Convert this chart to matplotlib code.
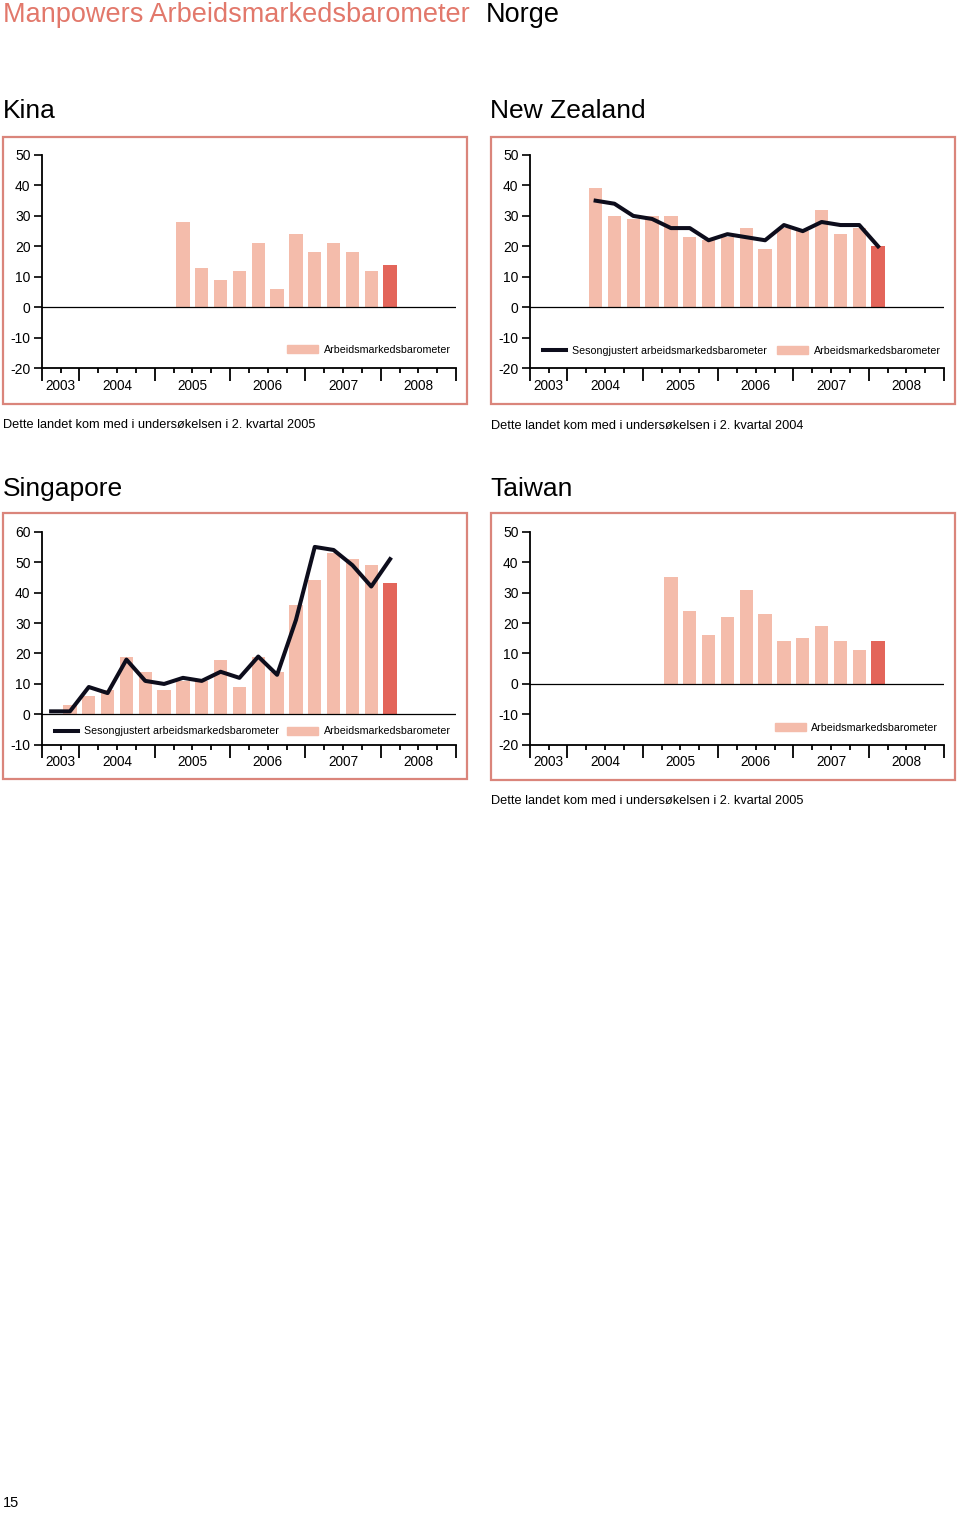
import matplotlib.pyplot as plt
from matplotlib.patches import Rectangle, Patch
from matplotlib.lines import Line2D

plt.rcParams['font.family'] = ['Liberation Sans', 'DejaVu Sans']
plt.rcParams['axes.unicode_minus'] = False

# Kvartaler på x-aksen: 3. kvartal 2003 til 4. kvartal 2008
kvartaler = ['2003K3', '2003K4',
             '2004K1', '2004K2', '2004K3', '2004K4',
             '2005K1', '2005K2', '2005K3', '2005K4',
             '2006K1', '2006K2', '2006K3', '2006K4',
             '2007K1', '2007K2', '2007K3', '2007K4',
             '2008K1', '2008K2', '2008K3', '2008K4']
aar = ['2003', '2004', '2005', '2006', '2007', '2008']

# Kina (fra 2. kvartal 2005)
kina_start = '2005K2'
kina_barometer = [28, 13, 9, 12, 21, 6, 24, 18, 21, 18, 12, 14]

# New Zealand (fra 2. kvartal 2004)
nz_start = '2004K2'
nz_barometer = [39, 30, 29, 30, 30, 23, 22, 23, 26, 19, 26, 25, 32, 24, 26, 20]
nz_sesong = [35, 34, 30, 29, 26, 26, 22, 24, 23, 22, 27, 25, 28, 27, 27, 20]

# Singapore
sg_start = '2003K4'
sg_barometer = [3, 6, 8, 19, 14, 8, 11, 11, 18, 9, 19, 14, 36, 44, 53, 51, 49, 43]
sg_sesong_start = '2003K3'
sg_sesong = [1, 1, 9, 7, 18, 11, 10, 12, 11, 14, 12, 19, 13, 31, 55, 54, 49, 42, 51]

# Taiwan (fra 2. kvartal 2005)
tw_start = '2005K2'
tw_barometer = [35, 24, 16, 22, 31, 23, 14, 15, 19, 14, 11, 14]

# Farger
lys = '#f4bcab'
mork = '#e3655a'
ramme = '#da857b'
overskrift = '#e2786b'
linjefarge = '#0d0d1c'

W, H = 960, 1513
fig = plt.figure(figsize=(W / 100, H / 100), dpi=100)


def fx(x):
    return x / W


def fy(y):
    return 1 - y / H


def diagram(venstre, topp, ymin, ymax, start, verdier, linje_start=None, linje=None,
            leg_linje=None, leg_bar=None):
    hoyde = (ymax - ymin) * 3.045
    ax = fig.add_axes([fx(venstre), fy(topp + hoyde), 414.3 / W, hoyde / H])

    i0 = kvartaler.index(start)
    x = [i0 + i + 0.5 for i in range(len(verdier))]
    farger = [lys] * (len(verdier) - 1) + [mork]
    ax.bar(x, verdier, width=0.71, color=farger, zorder=2)

    ax.axhline(0, color='black', lw=0.9, zorder=3)

    if linje is not None:
        j0 = kvartaler.index(linje_start)
        xl = [j0 + i + 0.5 for i in range(len(linje))]
        ax.plot(xl, linje, color=linjefarge, lw=2.9, zorder=4)

    ax.set_xlim(0, len(kvartaler))
    ax.set_ylim(ymin, ymax)
    ax.set_yticks(range(ymin, ymax + 1, 10))

    # årsgrenser som store merker, kvartaler som små
    store = [kvartaler.index(a + 'K1') if a + 'K1' in kvartaler else 0 for a in aar] + [len(kvartaler)]
    ax.set_xticks(store)
    ax.set_xticks([i for i in range(len(kvartaler) + 1) if i not in store], minor=True)
    ax.set_xticklabels([])

    ax.spines['top'].set_visible(False)
    ax.spines['right'].set_visible(False)
    ax.spines['left'].set_linewidth(1.3)
    ax.spines['bottom'].set_linewidth(1.3)
    ax.tick_params(axis='y', direction='out', length=6, width=1.2, pad=2, labelsize=10)
    ax.tick_params(axis='x', which='major', direction='out', length=9.5, width=1.3)
    ax.tick_params(axis='x', which='minor', direction='out', length=3.6, width=1.3)

    # årstall midt mellom årsgrensene
    for a in aar:
        idx = [i for i, k in enumerate(kvartaler) if k.startswith(a)]
        xm = (idx[0] + idx[-1] + 1) / 2
        ax.annotate(a, xy=(xm, ymin), xytext=(0, -12.5), textcoords='offset points',
                    ha='center', va='center', fontsize=9.8)

    if leg_linje is not None:
        l1 = ax.legend(handles=[Line2D([0], [0], color=linjefarge, lw=2.9)],
                       labels=['Sesongjustert arbeidsmarkedsbarometer'],
                       loc='center left', bbox_to_anchor=leg_linje, frameon=False,
                       fontsize=7.7, handlelength=2.15, handletextpad=0.55,
                       borderpad=0, borderaxespad=0)
        ax.add_artist(l1)
    ax.legend(handles=[Patch(color=lys)], labels=['Arbeidsmarkedsbarometer'],
              loc='center left', bbox_to_anchor=leg_bar, frameon=False,
              fontsize=7.7, handlelength=2.9, handleheight=0.75, handletextpad=0.55,
              borderpad=0, borderaxespad=0)
    return ax


diagram(41.7, 155, -20, 50, kina_start, kina_barometer, leg_bar=(0.592, 0.086))
diagram(529.7, 155, -20, 50, nz_start, nz_barometer, nz_start, nz_sesong,
        leg_linje=(0.033, 0.082), leg_bar=(0.596, 0.082))
diagram(41.7, 531.7, -10, 60, sg_start, sg_barometer, sg_sesong_start, sg_sesong,
        leg_linje=(0.032, 0.063), leg_bar=(0.592, 0.063))
diagram(529.7, 531.7, -20, 50, tw_start, tw_barometer, leg_bar=(0.591, 0.08))

# Rammer rundt diagrammene
for (x0, y0, x1, y1) in [(3, 137, 467, 404), (491, 137, 955, 404),
                         (3, 513, 467, 779), (491, 513, 955, 780)]:
    fig.add_artist(Rectangle((fx(x0), fy(y1)), (x1 - x0) / W, (y1 - y0) / H,
                             transform=fig.transFigure, fill=False, ec=ramme, lw=1.6))

# Tekster
fig.text(fx(3), fy(22), 'Manpowers Arbeidsmarkedsbarometer', color=overskrift,
         fontsize=19.5, va='baseline')
fig.text(fx(486), fy(22), 'Norge', fontsize=19.5, va='baseline')

fig.text(fx(3), fy(118), 'Kina', fontsize=19, va='baseline')
fig.text(fx(490), fy(118), 'New Zealand', fontsize=19, va='baseline')
fig.text(fx(3), fy(496), 'Singapore', fontsize=19, va='baseline')
fig.text(fx(490), fy(496), 'Taiwan', fontsize=19, va='baseline')

fig.text(fx(3), fy(428), 'Dette landet kom med i undersøkelsen i 2. kvartal 2005',
         fontsize=9.2, va='baseline')
fig.text(fx(491), fy(429), 'Dette landet kom med i undersøkelsen i 2. kvartal 2004',
         fontsize=9.2, va='baseline')
fig.text(fx(491), fy(804), 'Dette landet kom med i undersøkelsen i 2. kvartal 2005',
         fontsize=9.2, va='baseline')

fig.text(fx(3), fy(1507), '15', fontsize=10.5, va='baseline')

plt.savefig('out.png', dpi=100)
